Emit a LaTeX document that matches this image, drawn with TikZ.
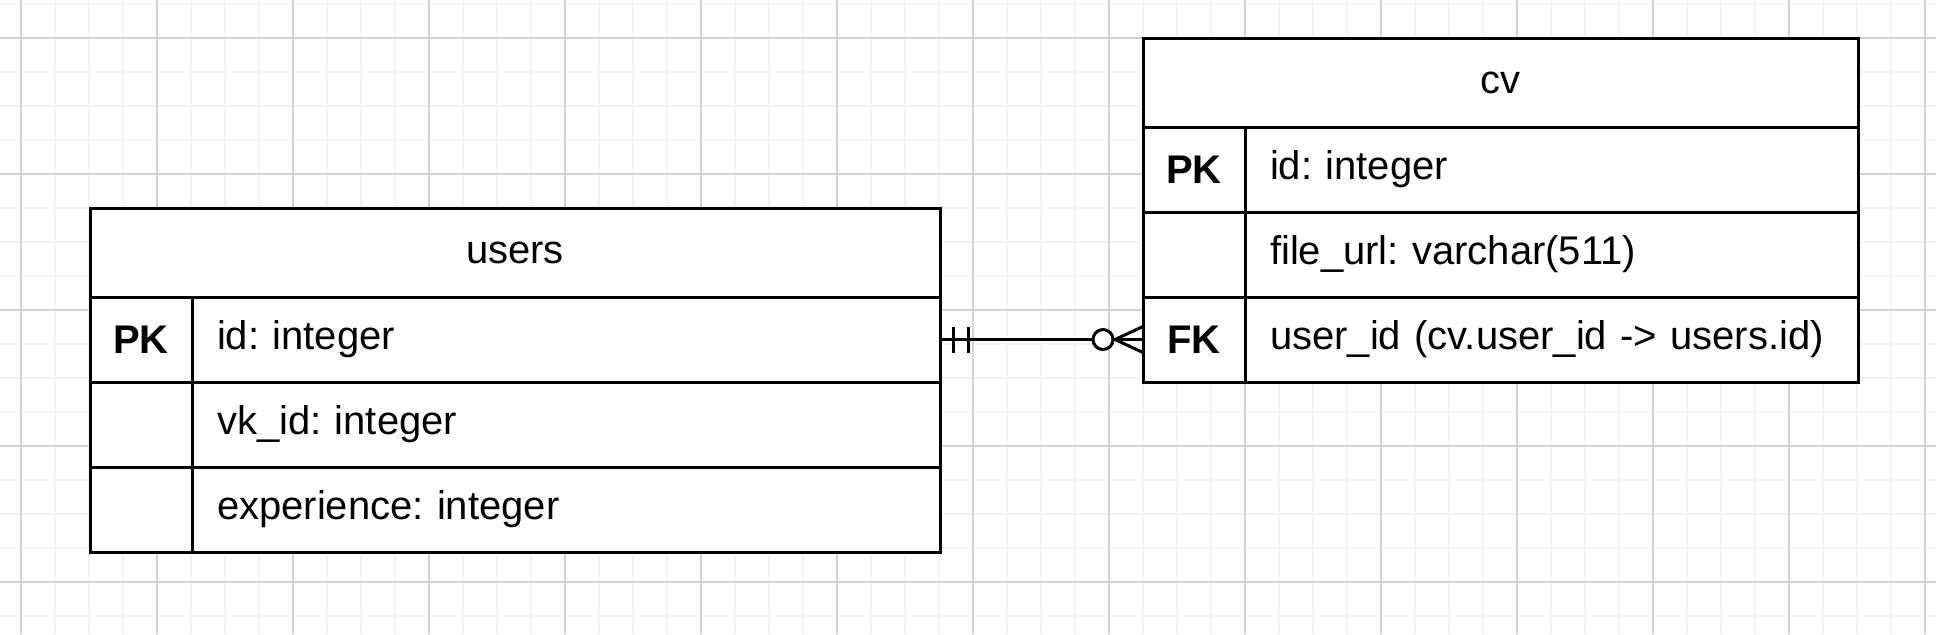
\documentclass[tikz,border=0pt]{standalone}
\usepackage{fontspec}
\setmainfont{Liberation Sans}
\frenchspacing
\usetikzlibrary{positioning, calc}
\tikzset{every picture/.style={font issue=\fontsize{20pt}{24pt}},
         font issue/.style={execute at begin picture={#1\selectfont}}
        }
\tikzset{
  grid minor/.style={line width=1pt, gray!9},
  grid major/.style={line width=0.6pt, gray!35},
  tbl head/.style={draw, line width=1.5pt, outer sep=0pt, inner sep=0pt, minimum height=44.5pt},
  key cell/.style={draw, line width=1.5pt, outer sep=0pt, inner sep=0pt, minimum width=51pt, minimum height=42.5pt, font=\bfseries},
  field cell/.style={draw, line width=1.5pt, outer sep=0pt, inner xsep=12.5pt, inner ysep=0pt, minimum height=42.5pt, text width=#1, align=left},
  rel/.style={line width=1.5pt}
}

\begin{document}
\begin{tikzpicture}[x=1pt, y=1pt]
\useasboundingbox (0,0) rectangle (968,-317);
% grid
\foreach \i in {0,...,56} \draw[grid minor] (10.5+17*\i,0) -- ++(0,-317);
\foreach \j in {0,...,18} \draw[grid minor] (0,-2-17*\j) -- ++(968,0);
\foreach \i in {0,...,14} \draw[grid major] (10.5+68*\i,0) -- ++(0,-317);
\foreach \j in {0,...,4} \draw[grid major] (0,-19-68*\j) -- ++(968,0);

% users
\node[tbl head, minimum width=425pt, anchor=north west, fill=white](users) at (45,-104){users};
\node[key cell, anchor=north west, fill=white](users_k1) at (users.south west){PK};
\node[field cell=349pt, anchor=west, fill=white](users_id) at (users_k1.east){id: integer};
\node[key cell, anchor=north west, fill=white](users_k2) at (users_k1.south west){};
\node[field cell=349pt, anchor=west, fill=white](users_vk) at (users_k2.east){vk\_id: integer};
\node[key cell, anchor=north west, fill=white](users_k3) at (users_k2.south west){};
\node[field cell=349pt, anchor=west, fill=white](users_exp) at (users_k3.east){experience: integer};

% cv
\node[tbl head, minimum width=357.5pt, anchor=north west, fill=white](cv) at (571.5,-19){cv};
\node[key cell, anchor=north west, fill=white](cv_k1) at (cv.south west){PK};
\node[field cell=281.5pt, anchor=west, fill=white](cv_id) at (cv_k1.east){id: integer};
\node[key cell, anchor=north west, fill=white](cv_k2) at (cv_k1.south west){};
\node[field cell=281.5pt, anchor=west, fill=white](cv_url) at (cv_k2.east){file\_url: varchar(511)};
\node[key cell, anchor=north west, fill=white](cv_fk) at (cv_k2.south west){FK};
\node[field cell=281.5pt, anchor=west, fill=white](cv_user) at (cv_fk.east){user\_id (cv.user\_id -> users.id)};

% relation: one and only one -- zero or many
\draw[rel](users_id.east) -- (cv_fk.west);
\draw[rel]([shift={(6.5,6.5)}]users_id.east) -- ([shift={(6.5,-6.5)}]users_id.east);
\draw[rel]([shift={(14,6.5)}]users_id.east) -- ([shift={(14,-6.5)}]users_id.east);
\draw[rel]([shift={(0,6.5)}]cv_fk.west) -- ([xshift=-14pt]cv_fk.west) -- ([shift={(0,-6.5)}]cv_fk.west);
\draw[rel, fill=white]([xshift=-20pt]cv_fk.west) circle (5pt);

\end{tikzpicture}
\end{document}
